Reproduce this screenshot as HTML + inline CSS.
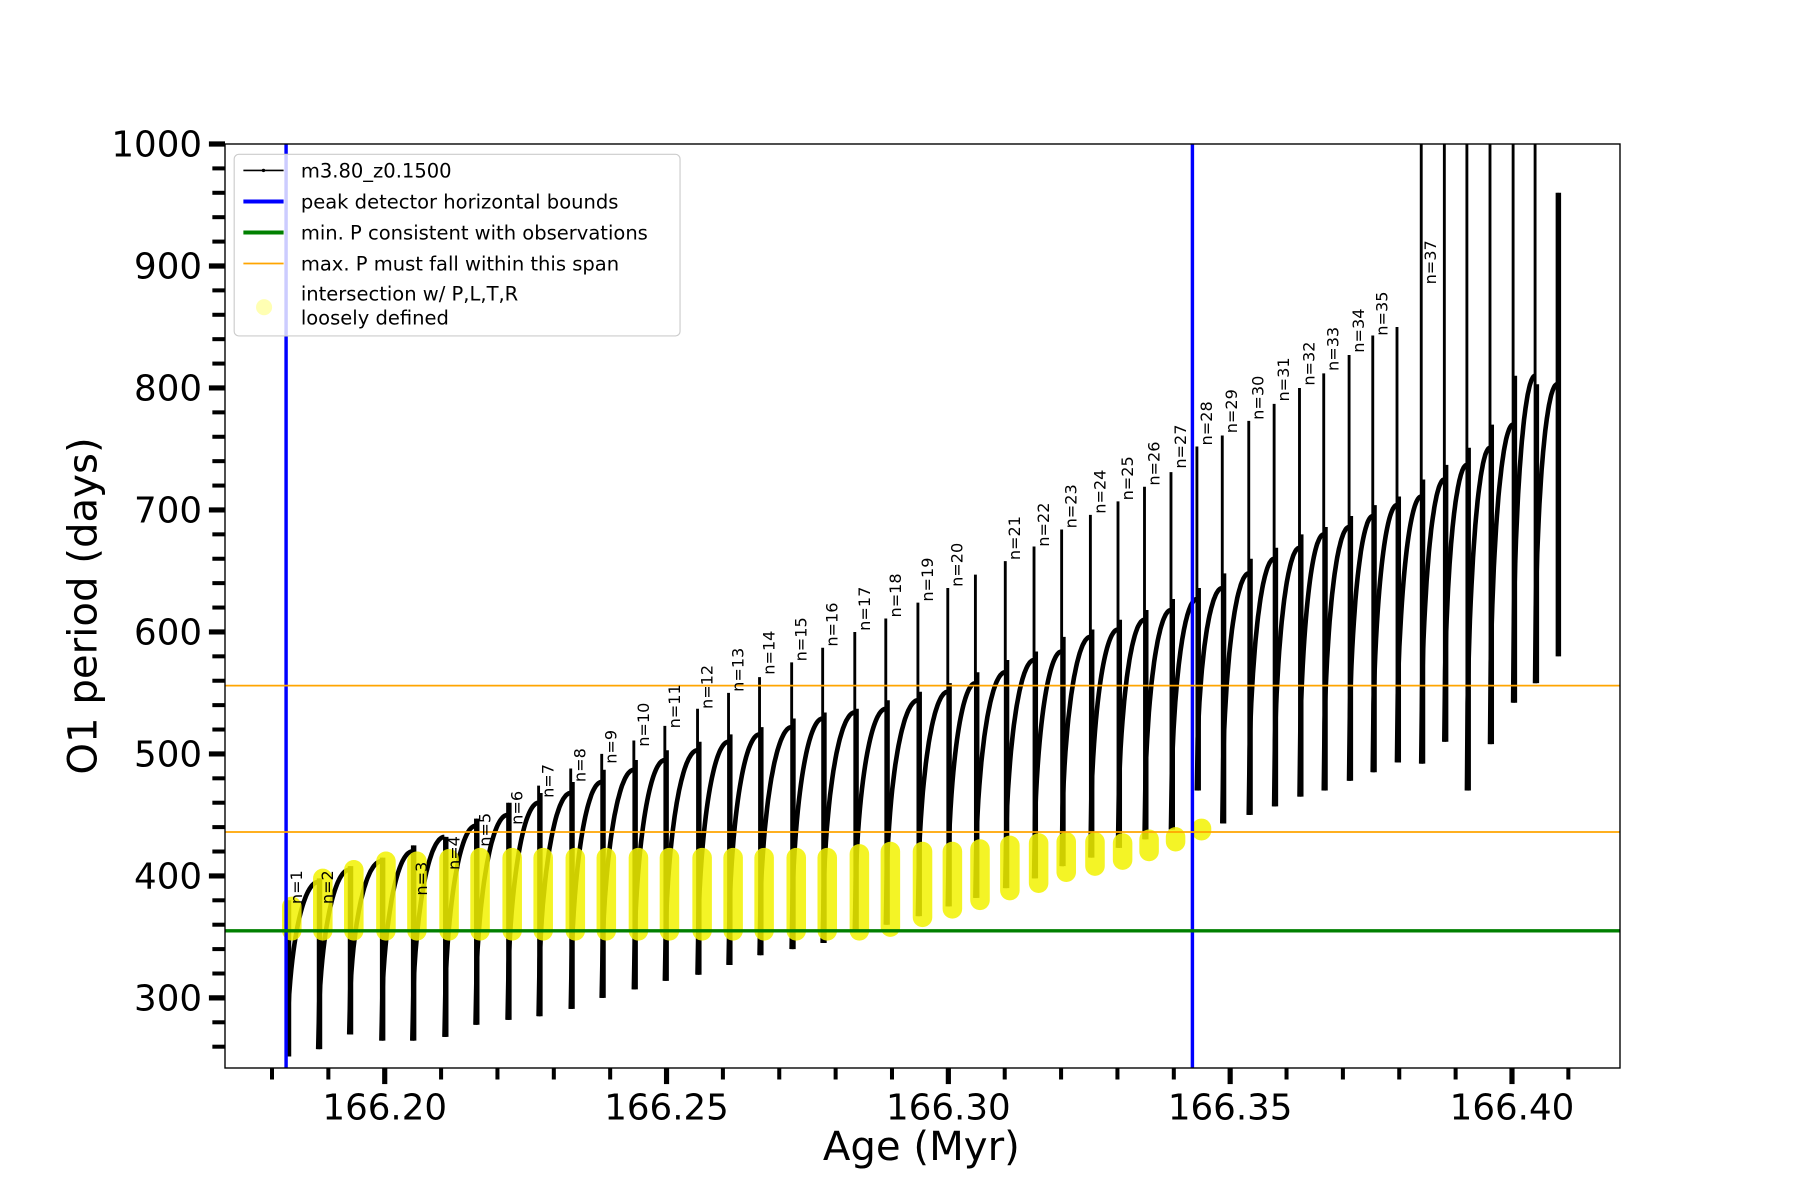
<!DOCTYPE html>
<html><head><meta charset="utf-8"><style>
html,body{margin:0;padding:0;background:#fff;}
svg{display:block;font-family:"DejaVu Sans","Liberation Sans",sans-serif;}
</style></head><body>
<svg id="chart" width="1800" height="1200" viewBox="0 0 1560 1040" preserveAspectRatio="none" xmlns="http://www.w3.org/2000/svg">
<defs><clipPath id="clip"><rect x="197" y="126" width="1214" height="804"/></clipPath></defs>
<rect x="0" y="0" width="1560" height="1040" fill="#fff"/>
<g transform="translate(-1.19,-0.70) scale(0.99588,0.99602)">
<g id="ticks"></g>
<g id="series" clip-path="url(#clip)"></g>
<rect x="197" y="126" width="1214" height="804" fill="none" stroke="#000" stroke-width="1.2"/>
<text x="803" y="1010" font-size="35" text-anchor="middle">Age (Myr)</text>
<text transform="translate(85,528) rotate(-90)" font-size="35" text-anchor="middle">O1 period (days)</text>
<g>
<rect x="205" y="135" width="388" height="158" rx="4" fill="#fff" fill-opacity="0.8" stroke="#ccc" stroke-width="1"/>
<g><line x1="213" y1="149" x2="248" y2="149" stroke="#000" stroke-width="1.5"/><circle cx="230.5" cy="149" r="1.5"/><text x="263" y="155" font-size="17">m3.80_z0.1500</text></g>
<g><line x1="213" y1="176" x2="248" y2="176" stroke="#0000ff" stroke-width="3.5"/><text x="263" y="182" font-size="17">peak detector horizontal bounds</text></g>
<g><line x1="213" y1="203" x2="248" y2="203" stroke="#008000" stroke-width="3.5"/><text x="263" y="209" font-size="17">min. P consistent with observations</text></g>
<g><line x1="213" y1="230" x2="248" y2="230" stroke="#ffa500" stroke-width="1.5"/><text x="263" y="236" font-size="17">max. P must fall within this span</text></g>
<g><ellipse cx="231" cy="268" rx="7" ry="7" fill="#ffffa0" opacity="0.8"/><text x="263" y="262" font-size="17">intersection w/ P,L,T,R</text><text x="263" y="283" font-size="17">loosely defined</text></g>
</g>
</g>
</svg>
<script>
// data
const pulseAges=[166.1827,166.1882,166.1937,166.1994,166.2049,166.2106,166.2161,166.2218,166.2273,166.2330,
166.2385,166.2442,166.2497,166.2555,166.2610,166.2665,166.2722,166.2777,166.2834,166.2889,
166.2946,166.2999,166.3048,166.3101,166.3152,166.3201,166.3252,166.3301,166.3348,166.3395,
166.3441,166.3486,166.3533,166.3578,166.3623,166.3666,166.3711,166.3753,166.3796,166.3839,
166.3880,166.3920,166.3961,166.4002,166.4041,166.4080];
const spikeTops=[380,398,408,415,425,432,447,460,474,488,
500,511,523,537,550,563,575,587,600,611,
624,636,647,658,670,684,696,707,719,731,
752,761,773,787,800,812,827,843,850,1100,
1100,1100,1100,1100,1100,960];
const dipMins=[252,258,270,265,265,268,278,282,285,291,
300,307,314,319,327,335,340,345,355,360,
367,375,382,390,398,408,415,423,430,438,
470,443,450,457,465,470,478,485,493,492,
510,470,508,542,558,580];
const curvePeaks=[395,405,412,420,432,441,450,460,468,
477,487,495,503,510,516,522,529,534,537,
544,551,558,567,577,584,596,602,610,618,
627,636,648,660,669,680,686,695,704,711,
725,737,751,770,810,803];
const yellowLo=[355,355,355,355,355,355,355,355,355,355,355,355,355,355,355,355,355,355,355,358,366,373,380,388,394,403,408,413,420,428,437];
const yellowHi=[375,398,405,412,412,414,415,415,415,415,415,415,415,415,415,415,415,415,418,420,420,420,422,425,427,428,428,427,430,432,439];
const labelN=[1,2,3,4,5,6,7,8,9,10,11,12,13,14,15,16,17,18,19,20,21,22,23,24,25,26,27,28,29,30,31,32,33,34,35,37];
const labelAge=[166.1827,166.1882,166.2049,166.2106,166.2161,166.2218,166.2273,166.2330,166.2385,166.2442,166.2497,166.2555,166.2610,166.2665,166.2722,166.2777,166.2834,166.2889,166.2946,166.2999,166.3101,166.3152,166.3201,166.3252,166.3301,166.3348,166.3395,166.3441,166.3486,166.3533,166.3578,166.3623,166.3666,166.3711,166.3753,166.3839];
const labelP=[375,375,382,403,422,440,462,475,490,504,519,535,549,563,574,586,599,610,623,635,657,668,683,695,706,718,732,751,761,772,787,800,812,827,841,883];
const hBlue=[166.1825,166.3433];
const hGreen=[355];
const hOrange=[556,436];
const xMajorTicks=[166.20,166.25,166.30,166.35,166.40];
const xMajorLabels=["166.20","166.25","166.30","166.35","166.40"];
const yMajorTicks=[300,400,500,600,700,800,900,1000];

const X0=166.20, PX0=336, PXU=4905;
const xs=a=>PX0+(a-X0)*PXU;
const ys=p=>869-(p-300)*1.06143;
const NS="http://www.w3.org/2000/svg";
function mk(tag,attrs,parent){const e=document.createElementNS(NS,tag);for(const k in attrs)e.setAttribute(k,attrs[k]);parent.appendChild(e);return e;}
const ser=document.getElementById('series');
const tk=document.getElementById('ticks');

for(let v=260;v<=1000;v+=20){
  const major=v%100===0;
  const t=mk('line',{x1:major?183:186,x2:197,y1:ys(v),y2:ys(v),stroke:'#000','stroke-width':major?4.5:3.5},tk);
  
  
}
yMajorTicks.forEach(v=>{
  const t=mk('text',{x:177,y:ys(v)+11,'font-size':31,'text-anchor':'end'},tk);t.textContent=String(v);
  
  
});
for(let i=0;i<=24;i++){
  const a=166.18+i*0.01; const x=xs(a); if(x<197||x>1411)continue;
  const major=(i%5)===2;
  const t=mk('line',{x1:x,x2:x,y1:930,y2:major?944:940,stroke:'#000','stroke-width':major?4.5:3.5},tk);
  
  
}
xMajorTicks.forEach((a,i)=>{
  const t=mk('text',{x:xs(a),y:975,'font-size':31,'text-anchor':'middle'},tk);t.textContent=xMajorLabels[i];
  
  
});

let d='';
for(let i=0;i<pulseAges.length-1;i++){
  const a0=pulseAges[i],a1=pulseAges[i+1],lo=dipMins[i],hi=curvePeaks[i];
  for(let k=0;k<=30;k++){
    const u=k/30; const f=Math.sqrt(1-(1-u)*(1-u));
    const x=xs(a0+(a1-a0)*u), y=ys(lo+(hi-lo)*f);
    d+=(k===0?'M':'L')+x.toFixed(1)+' '+y.toFixed(1);
  }
}
const curve=mk('path',{d:d,fill:'none',stroke:'#000','stroke-width':4,'stroke-linejoin':'round'},ser);


pulseAges.forEach((a,i)=>{
  const s=mk('line',{x1:xs(a),x2:xs(a),y1:ys(dipMins[i]),y2:ys(spikeTops[i]),stroke:'#000','stroke-width':2.5},ser);
  
  
  const s2=mk('line',{x1:xs(a)+2,x2:xs(a)+2,y1:ys(dipMins[i]),y2:ys(Math.min(curvePeaks[i]||spikeTops[i],spikeTops[i])),stroke:'#000','stroke-width':3},ser);
  
  
});
yellowLo.forEach((lo,i)=>{
  const x=xs(pulseAges[i])+4;
  const y=mk('line',{x1:x,x2:x,y1:ys(lo),y2:ys(yellowHi[i]),stroke:'#f2f200','stroke-opacity':0.85,'stroke-width':17,'stroke-linecap':'round'},ser);
  
  
});
hBlue.forEach(a=>{
  const l=mk('line',{x1:xs(a),x2:xs(a),y1:126,y2:930,stroke:'#0000ff','stroke-width':3},ser);
  
  
});
hGreen.forEach(p=>{
  const l=mk('line',{x1:197,x2:1411,y1:ys(p),y2:ys(p),stroke:'#008000','stroke-width':3},ser);
  
  
});
hOrange.forEach(p=>{
  const l=mk('line',{x1:197,x2:1411,y1:ys(p),y2:ys(p),stroke:'#ffa500','stroke-width':1.5},ser);
  
  
});
labelN.forEach((n,i)=>{
  const x=xs(labelAge[i])+13, y=ys(labelP[i])-2;
  const t=mk('text',{transform:'translate('+x.toFixed(1)+','+y.toFixed(1)+') rotate(-90)','font-size':14},ser);
  t.textContent='n='+n;
  
  
});
</script>
</body></html>
